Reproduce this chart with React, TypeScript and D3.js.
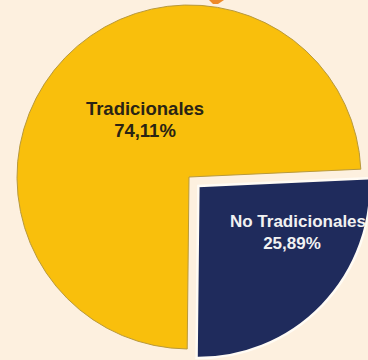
import React from "react";
import * as d3 from "d3";

const categories = ["Tradicionales", "No Tradicionales"];
const values = [74.11, 25.89];
const valueLabels = ["74,11%", "25,89%"];
const colors = ["#F9BF0C", "#1F2B5C"];

const W = 368;
const H = 360;
const CX = 189;
const CY = 177;
const R = 172;
const START_DEG = 180.6;
const EXPLODE = [0, 13];

export default function App() {
  const pie = d3
    .pie<number>()
    .sort(null)
    .startAngle((START_DEG * Math.PI) / 180)
    .endAngle((START_DEG * Math.PI) / 180 + 2 * Math.PI);
  const arcs = pie(values);
  const arc = d3.arc<d3.PieArcDatum<number>>().innerRadius(0).outerRadius(R);

  const offsets = arcs.map((a, i) => {
    const mid = (a.startAngle + a.endAngle) / 2;
    return [Math.sin(mid) * EXPLODE[i], -Math.cos(mid) * EXPLODE[i]];
  });

  const labelPos = [
    { x: 145, y1: 115, y2: 136.5, size: 18.5, fill: "#2A2414", x2: 145 },
    { x: 298, y1: 227, y2: 249, size: 17, fill: "#F2F2F2", x2: 292 },
  ];

  return (
    <svg
      width={W}
      height={H}
      style={{ position: "absolute", left: 0, top: 0, display: "block" }}
    >
      <rect width={W} height={H} fill="#FDF0DF" />
      <path d="M209,0 L224,0 L218,4 L213,4 Z" fill="#EE8A2A" />
      {arcs.map((a, i) => (
        <path
          key={categories[i]}
          d={arc(a) || ""}
          transform={`translate(${CX + offsets[i][0]},${CY + offsets[i][1]})`}
          fill={colors[i]}
          stroke={i === 0 ? "#B8993C" : "#FFFBF4"}
          strokeWidth={i === 0 ? 1 : 2.5}
          strokeLinejoin="miter"
        />
      ))}
      {arcs.map((a, i) => {
        const p = labelPos[i];
        return (
          <g
            key={"l" + i}
            fontFamily="Liberation Sans, Arial, sans-serif"
            fontWeight="bold"
            fontSize={p.size}
            fill={p.fill}
            textAnchor="middle"
          >
            <text x={p.x} y={p.y1}>
              {categories[i]}
            </text>
            <text x={p.x2} y={p.y2}>
              {valueLabels[i]}
            </text>
          </g>
        );
      })}
    </svg>
  );
}
